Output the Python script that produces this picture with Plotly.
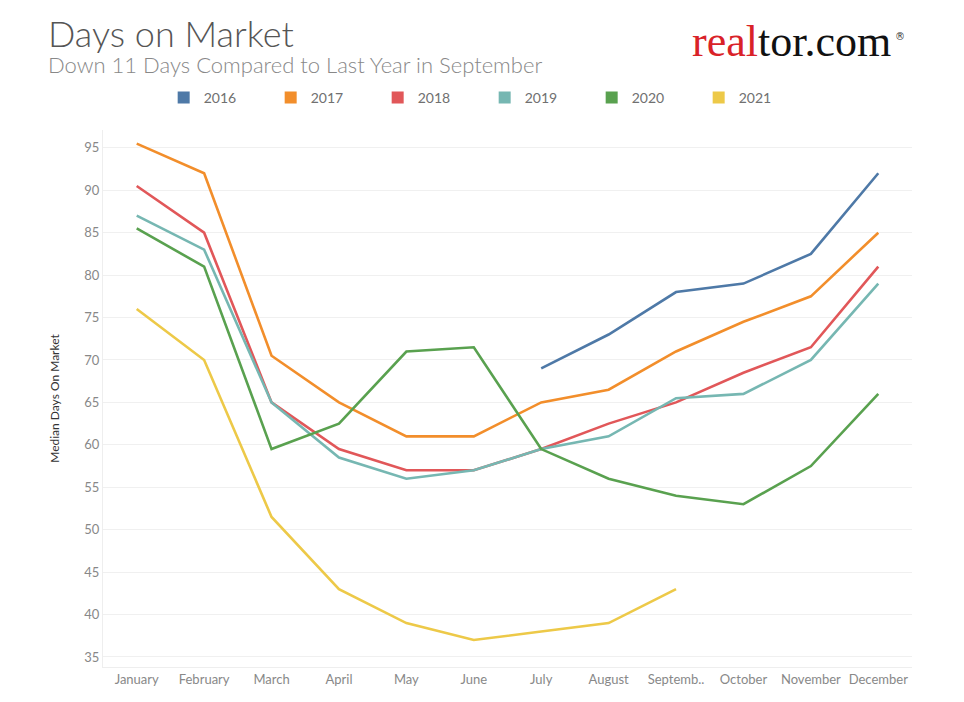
import plotly.graph_objects as go

months = ['January', 'February', 'March', 'April', 'May', 'June', 'July',
          'August', 'September', 'October', 'November', 'December']
month_labels = ['January', 'February', 'March', 'April', 'May', 'June', 'July',
                'August', 'Septemb..', 'October', 'November', 'December']

# median days on market by year (None = no data)
dom_2016 = [None, None, None, None, None, None, 69, 73, 78, 79, 82.5, 92]
dom_2017 = [95.5, 92, 70.5, 65, 61, 61, 65, 66.5, 71, 74.5, 77.5, 85]
dom_2018 = [90.5, 85, 65, 59.5, 57, 57, 59.5, 62.5, 65, 68.5, 71.5, 81]
dom_2019 = [87, 83, 65, 58.5, 56, 57, 59.5, 61, 65.5, 66, 70, 79]
dom_2020 = [85.5, 81, 59.5, 62.5, 71, 71.5, 59.5, 56, 54, 53, 57.5, 66]
dom_2021 = [76, 70, 51.5, 43, 39, 37, 38, 39, 43, None, None, None]

years = ['2016', '2017', '2018', '2019', '2020', '2021']
series = [dom_2016, dom_2017, dom_2018, dom_2019, dom_2020, dom_2021]
colors = ['#4e79a7', '#f28e2b', '#e15759', '#76b7b2', '#59a14f', '#edc948']

fig = go.Figure()
for yr, vals, col in zip(years, series, colors):
    fig.add_trace(go.Scatter(x=months, y=vals, mode='lines', name=yr,
                             line=dict(color=col, width=2.6),
                             legendgroup=yr, showlegend=False))
    # square legend swatch
    fig.add_trace(go.Scatter(x=[None], y=[None], mode='markers', name=yr,
                             marker=dict(color=col, symbol='square', size=12),
                             legendgroup=yr, showlegend=True))

font = 'Lato, Open Sans, sans-serif'

# page body adds 8px, so margins are shifted by that
fig.update_layout(
    width=964, height=702,
    margin=dict(l=95, r=60, t=122, b=43, autoexpand=False),
    paper_bgcolor='white', plot_bgcolor='white',
    font=dict(family=font, color='#888888'),
    showlegend=True,
    legend=dict(orientation='h', x=0.075, xanchor='left', y=1.0596, yanchor='middle',
                entrywidth=62, entrywidthmode='pixels',
                font=dict(size=14, color='#707070'), itemwidth=30),
    xaxis=dict(categoryorder='array', categoryarray=months,
               tickvals=months, ticktext=month_labels,
               tickfont=dict(size=13, color='#888888'),
               showgrid=False, showline=True, linecolor='#eeeeee',
               ticks='', range=[-0.5, 11.5], automargin=False),
    yaxis=dict(range=[33.82, 97.1], tickvals=list(range(35, 100, 5)),
               tickfont=dict(size=13, color='#888888'),
               showgrid=True, gridcolor='#f0f0f0', zeroline=False,
               showline=True, linecolor='#eeeeee', ticks='', automargin=False,
               title=dict(text='Median Days On Market', standoff=22,
                          font=dict(size=12, color='#333333'))),
)

fig.add_annotation(text='Days on Market', xref='paper', yref='paper',
                   x=-0.07, y=1.18, xanchor='left', yanchor='middle',
                   showarrow=False,
                   font=dict(family=font, size=36, color='#555555', weight=300))
fig.add_annotation(text='Down 11 Days Compared to Last Year in September',
                   xref='paper', yref='paper', x=-0.07, y=1.1229,
                   xanchor='left', yanchor='middle', showarrow=False,
                   font=dict(family=font, size=22, color='#888888', weight=300))
fig.add_annotation(text="<span style='color:#d92228'>real</span>tor.com",
                   xref='paper', yref='paper', x=0.977, y=1.1639,
                   xanchor='right', yanchor='middle', showarrow=False,
                   font=dict(family='Liberation Serif, DejaVu Serif, serif',
                             size=44, color='#111111'))
fig.add_annotation(text='®', xref='paper', yref='paper', x=0.977, y=1.175,
                   xanchor='left', yanchor='middle', showarrow=False,
                   font=dict(family='DejaVu Sans, sans-serif', size=10, color='#333333'))

fig.write_html("out.html")
